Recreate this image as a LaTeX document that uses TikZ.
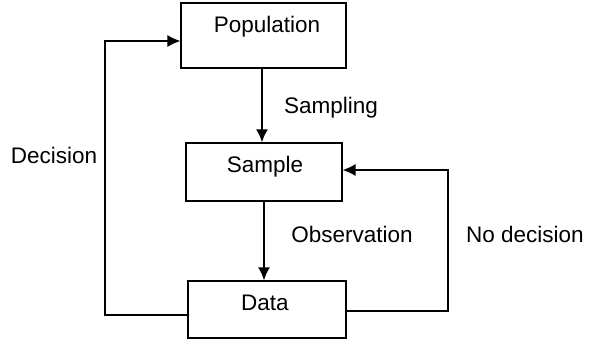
\documentclass[tikz,border=0pt]{standalone}
\usepackage{fontspec}
\setmainfont{Liberation Sans}
\usetikzlibrary{arrows.meta}

\tikzset{
    stagebox/.style={draw, line width=1.2pt, inner sep=0pt},
    flow/.style={line width=2pt, -{Latex[length=13pt, width=12pt]}},
    loopline/.style={line width=1.3pt, -{Latex[length=13pt, width=12pt]}},
    steplabel/.style={font=\fontsize{22.5}{27}\selectfont}
}

\begin{document}
\begin{tikzpicture}[x=1pt, y=-1pt]
    \useasboundingbox (0,0) rectangle (592,341);

    % Draw boxes
    \node[stagebox, minimum width=165pt, minimum height=65pt] (pop) at (263.5, 35.5) {};
    \node[steplabel] at (267, 27) {Population};
    \node[stagebox, minimum width=156pt, minimum height=58pt] (samp) at (264, 172) {};
    \node[steplabel] at (265, 167) {Sample};
    \node[stagebox, minimum width=158pt, minimum height=57pt] (data) at (267, 309.5) {};
    \node[steplabel] at (265, 303) {Data};

    % Corner points of the loops
    \coordinate (dl) at (105, 315);
    \coordinate (dr) at (448, 311);

    % Draw edges
    \draw[flow] (pop.south -| 262,0) -- (samp.north -| 262,0); % Sampling
    \draw[flow] (samp.south -| 264,0) -- (data.north -| 264,0); % Observation
    \draw[loopline] (data.west |- dl) -- (dl) -- (105, 41) -- (pop.west |- 0,41); % Decision
    \draw[loopline] (data.east |- dr) -- (dr) -- (448, 170) -- (samp.east |- 0,170); % No decision

    % Edge labels
    \node[steplabel] (lsamp) at (331, 108) {Sampling};
    \node[steplabel] (lobs) at (352, 234) {Observation};
    \node[steplabel] (ldec) at (54, 155) {Decision};
    \node[steplabel] (lno) at (525, 234) {No decision};
\end{tikzpicture}
\end{document}
